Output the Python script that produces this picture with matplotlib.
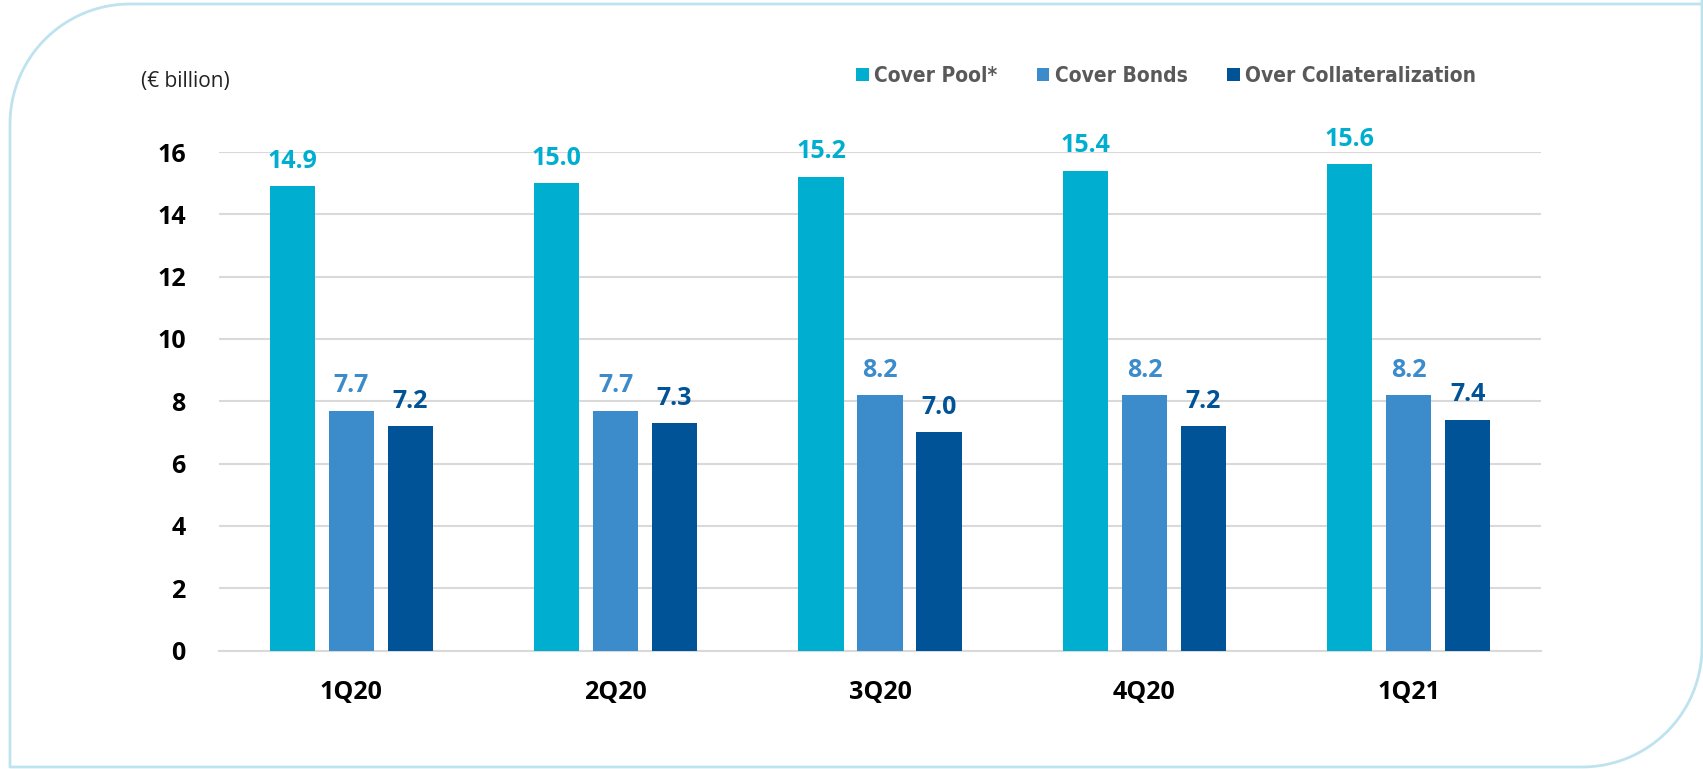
import numpy as np
import matplotlib
matplotlib.use("Agg")
import matplotlib.pyplot as plt
from matplotlib import font_manager

quarters = ["1Q20", "2Q20", "3Q20", "4Q20", "1Q21"]
cover_pool = [14.9, 15.0, 15.2, 15.4, 15.6]
cover_bonds = [7.7, 7.7, 8.2, 8.2, 8.2]
over_coll = [7.2, 7.3, 7.0, 7.2, 7.4]
series_names = ["Cover Pool*", "Cover Bonds", "Over Collateralization"]
y_ticks = [0, 2, 4, 6, 8, 10, 12, 14, 16]

colors = ["#00AECF", "#3C8BCA", "#005396"]
frame_color = "#BEE3EE"
grid_color = "#D9D9D9"


def pick_bold_family(cands):
    # first family in the list that really has a bold face installed
    for name in cands:
        for f in font_manager.fontManager.ttflist:
            w = f.weight if isinstance(f.weight, int) else 400
            if f.name == name and w >= 700 and f.style == "normal":
                return name
    return "DejaVu Sans"


def pick_narrow_font():
    # look for a condensed face for the legend, bold if possible
    found = []
    for f in font_manager.fontManager.ttflist:
        low = f.fname.lower()
        if ("narrow" in low or "condensed" in low) and "italic" not in low and "oblique" not in low:
            found.append(f)
    if not found:
        return None, 13
    bold = [f for f in found if "bold" in f.fname.lower() and "extra" not in f.fname.lower()]
    f = (bold or found)[0]
    return font_manager.FontProperties(fname=f.fname), 15


bold_family = pick_bold_family(["Noto Sans", "Open Sans", "Lato", "Roboto"])
plt.rcParams["font.family"] = [bold_family, "DejaVu Sans"]
legend_font, legend_size = pick_narrow_font()

W, H = 1703, 769
fig = plt.figure(figsize=(W / 100, H / 100), dpi=100)

# rounded background frame, drawn in pixel coords
bg = fig.add_axes([0, 0, 1, 1], zorder=-1)
bg.set_xlim(0, W)
bg.set_ylim(H, 0)
bg.axis("off")
r = 120
t1 = np.linspace(1.5 * np.pi, np.pi, 40)
t2 = np.linspace(0.5 * np.pi, 0, 40)
xs = np.concatenate([[W + 10], 10 + r + r * np.cos(t1), [10, W - 1 - r],
                     W - 1 - r + r * np.cos(t2), [W - 1]])
ys = np.concatenate([[4], 4 + r + r * np.sin(t1), [767, 767],
                     767 - r + r * np.sin(t2), [-10]])
bg.plot(xs, ys, color=frame_color, lw=2, solid_capstyle="butt")

ax = fig.add_axes([219 / W, 1 - 650.6 / H, (1541 - 219) / W, (650.6 - 152) / H])

x = np.arange(len(quarters))
width = 0.171
step = 0.223
all_series = [cover_pool, cover_bonds, over_coll]
containers = []
for i, (vals, name, col) in enumerate(zip(all_series, series_names, colors)):
    bars = ax.bar(x + (i - 1) * step, vals, width, color=col, label=name, zorder=3)
    ax.bar_label(bars, labels=[f"{v:.1f}" for v in vals], padding=9,
                 color=col, fontsize=18, fontweight="bold", clip_on=False)
    containers.append(bars)

ax.set_xlim(-0.5, len(quarters) - 0.5)
ax.set_ylim(0, 16)
ax.set_yticks(y_ticks, labels=[str(v) for v in y_ticks], fontweight="bold")
ax.set_xticks(x, labels=quarters, fontweight="bold")
ax.tick_params(axis="both", length=0, labelsize=18, labelcolor="black")
ax.tick_params(axis="y", pad=24)
ax.tick_params(axis="x", pad=21)
ax.grid(axis="y", color=grid_color, lw=1.5, zorder=0)
for s in ["top", "right", "left"]:
    ax.spines[s].set_visible(False)
ax.spines["bottom"].set_color(grid_color)
ax.spines["bottom"].set_linewidth(1.5)

fig.text(141 / W, 1 - 82 / H, "(€ billion)", fontsize=15, color="#222222",
         ha="left", va="center")

if legend_font is not None:
    legend_font.set_size(legend_size)
    leg_kw = dict(prop=legend_font)
else:
    leg_kw = dict(prop={"size": legend_size, "weight": "semibold"})
leg = fig.legend(handles=containers, loc="center", bbox_to_anchor=(1166 / W, 1 - 76 / H),
                 ncol=3, frameon=False, borderpad=0, handlelength=0.6, handleheight=0.6,
                 handletextpad=0.25, columnspacing=1.9, **leg_kw)
for t in leg.get_texts():
    t.set_color("#595959")

fig.savefig("out.png", dpi=100)
